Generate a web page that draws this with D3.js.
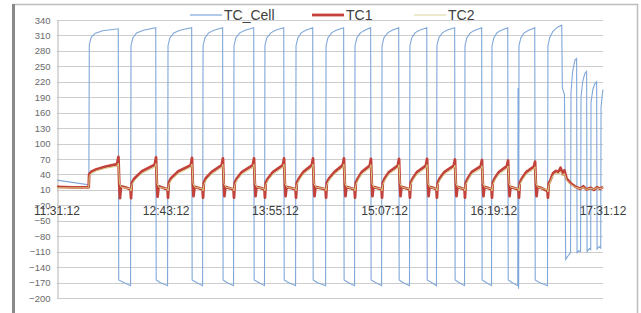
<!DOCTYPE html>
<html lang="en">
<head>
  <meta charset="UTF-8">
  <title>TC_Cell / TC1 / TC2</title>
  <style>
    body {
      margin: 0;
      padding: 0;
      background: #fff;
    }
    svg {
      display: block;
      font-family: "Liberation Sans", Arial, sans-serif;
    }
    .grid line {
      stroke: #cdcdcd;
      stroke-width: 1px;
    }
    .ylab {
      font-size: 9.5px;
      fill: #6a6a6a;
    }
    .xlab {
      font-size: 12px;
      fill: #3c3c3c;
    }
    .legend text {
      font-size: 14px;
      fill: #404040;
    }
  </style>
</head>
<body>
  <svg width="641" height="313"></svg>

  <script src="https://d3js.org/d3.v7.min.js"></script>
  <script>
    // minutes after 11:31:12, value
    const xTickLabels = ["11:31:12", "12:43:12", "13:55:12", "15:07:12", "16:19:12", "17:31:12"];
    const xTickMinutes = [0, 72, 144, 216, 288, 360];
    const yTicks = [-200, -170, -140, -110, -80, -50, -20, 10, 40, 70, 100, 130, 160, 190, 220, 250, 280, 310, 340];
    const seriesNames = ["TC_Cell", "TC1", "TC2"];

    const tcCell = [
      [0, 29], [21.0, 20], [21.3, 292], [22.5, 306], [25, 314], [30, 319], [40.4, 323], [40.7, -165], [44, -170], [48.5, -176],
      [48.8, 290], [50, 305], [52.5, 315], [57, 320], [65.1, 325], [65.4, -165], [68, -170], [72.9, -176],
      [73.2, 290], [74.4, 305], [77, 315], [81, 320], [88.8, 325], [89.1, -165], [92, -170], [96, -176],
      [96.3, 290], [97.5, 305], [100, 315], [103.5, 320], [109.2, 325], [109.5, -165], [112, -170], [116.4, -176],
      [116.7, 290], [117.9, 305], [120.5, 315], [124, 320], [129.7, 325], [130, -165], [133, -170], [136.8, -176],
      [137.1, 290], [138.3, 305], [141, 315], [144, 320], [149.5, 325], [149.8, -165], [152.5, -170], [157.3, -176],
      [157.6, 290], [158.8, 305], [161, 315], [164, 320], [168.6, 325], [168.9, -165], [171.5, -170], [177.1, -176],
      [177.4, 290], [178.6, 305], [181, 315], [184, 320], [189, 325], [189.3, -165], [192, -170], [196.2, -176],
      [196.5, 290], [197.7, 305], [200, 315], [203, 320], [206.8, 325], [207.1, -165], [210, -170], [214, -176],
      [214.3, 290], [215.5, 305], [218, 315], [221, 320], [225.3, 325], [225.6, -165], [228, -170], [232.4, -176],
      [232.7, 290], [233.9, 305], [236, 315], [239, 320], [243.8, 325], [244.1, -165], [247, -170], [250.2, -176],
      [250.5, 290], [251.7, 305], [254, 315], [257, 320], [262.2, 325], [262.5, -165], [265, -170], [268.7, -176],
      [269, 290], [270.2, 305], [272.5, 315], [275.5, 320], [280, 325], [280.3, -165], [283, -170], [286.5, -176],
      [286.8, 290], [288, 305], [290, 315], [293, 320], [297.2, 325], [297.5, -165], [300, -170], [303.8, -176],
      [304.0, 208], [304.3, -182], [304.4, -176],
      [304.6, 290], [305.8, 305], [308, 315], [311, 320], [315, 325], [315.3, -165], [318, -170], [323.4, -176],
      [323.7, 290], [324.9, 306], [327, 318], [330, 326], [332.8, 330], [333.2, 208], [334.6, 195], [335.4, -125], [337, -118], [338.6, -112],
      [338.9, 200], [340, 240], [341.5, 262], [342.6, 265], [342.9, -112], [344, -108], [345.2, -110],
      [345.5, 190], [346.7, 222], [348, 236], [349.2, 240], [349.5, -110], [351, -104], [351.9, -106],
      [352.1, 180], [353.3, 205], [354.6, 216], [355.8, 220], [356.1, -105], [357.5, -100], [358.5, -103],
      [358.7, 170], [359.5, 195], [360, 205]
    ];

    const tc1 = [
      [0, 16], [10, 15], [20.9, 15],
      [21.2, 40], [22.5, 45], [26, 50], [32, 55], [39.6, 60], [40.5, 74], [41, 25], [41.5, -6], [42.2, 17], [45, 15], [48.5, 11],
      [48.8, -6], [49.3, 24], [51, 32], [56, 46], [64.4, 59], [65.3, 73], [65.8, 24], [66.3, -3], [67, 17], [70, 14], [72.9, 11],
      [73.2, -5], [73.7, 24], [75, 32], [80, 46], [88.2, 58], [89, 72], [89.5, 24], [90, -2], [90.7, 16], [93, 14], [96, 11],
      [96.3, -5], [96.8, 24], [98, 32], [102, 45], [108.6, 58], [109.4, 71], [109.9, 24], [110.4, -2], [111, 16], [113, 14], [116.4, 11],
      [116.7, -5], [117.2, 24], [118.5, 32], [122, 45], [129.1, 58], [129.9, 71], [130.4, 24], [130.9, -2], [131.5, 16], [134, 14], [136.8, 11],
      [137.1, -5], [137.6, 24], [139, 32], [142.5, 45], [148.9, 58], [149.7, 71], [150.2, 24], [150.7, -2], [151.3, 16], [154, 14], [157.3, 11],
      [157.6, -5], [158.1, 24], [159.5, 32], [162.5, 45], [168, 58], [168.8, 71], [169.3, 24], [169.8, -2], [170.4, 16], [173, 14], [177.1, 11],
      [177.4, -5], [177.9, 24], [179.3, 32], [183, 45], [188.4, 58], [189.2, 71], [189.7, 24], [190.2, -2], [190.8, 16], [193, 14], [196.2, 11],
      [196.5, -5], [197, 24], [198.3, 32], [201, 45], [206.2, 57], [207, 70], [207.5, 24], [208, -2], [208.6, 16], [211, 14], [214, 11],
      [214.3, -5], [214.8, 24], [216, 32], [219, 45], [224.7, 57], [225.5, 70], [226, 24], [226.5, -2], [227.1, 16], [229.5, 14], [232.4, 11],
      [232.7, -5], [233.2, 24], [234.5, 32], [237.5, 45], [243.2, 57], [244, 70], [244.5, 24], [245, -2], [245.6, 16], [248, 14], [250.2, 11],
      [250.5, -5], [251, 24], [252.3, 32], [255.5, 45], [261.6, 57], [262.4, 69], [262.9, 24], [263.4, -2], [264, 16], [266, 14], [268.7, 11],
      [269, -5], [269.5, 24], [270.8, 32], [273.5, 45], [279.4, 56], [280.2, 68], [280.7, 24], [281.2, -2], [281.8, 16], [284, 14], [286.5, 11],
      [286.8, -5], [287.3, 24], [288.5, 32], [291.5, 45], [296.6, 56], [297.4, 67], [297.9, 24], [298.4, -2], [299, 16], [301, 14], [304.3, 11],
      [304.6, -5], [305.1, 24], [306.5, 32], [309.5, 45], [314.4, 55], [315.2, 65], [315.7, 24], [316.2, -2], [316.8, 16], [319, 14], [323.4, 8],
      [323.7, -5], [324.2, 22], [325.5, 30], [327, 42], [329, 47], [330.5, 44], [332, 53], [333.5, 40], [334.5, 48], [336, 32],
      [339, 22], [342, 16], [345, 12], [347, 17], [349, 11], [352, 14], [354, 10], [356, 15], [358, 12], [360, 16]
    ];

    const tc2 = [
      [0, 14], [10, 14], [20.9, 14],
      [21.3, 36], [22.5, 42], [26, 47], [32, 52], [39.6, 56], [40.5, 62], [41.2, 22], [42.5, 15], [45, 14], [48.5, 12],
      [48.8, 8], [49.4, 20], [51, 28], [56, 42], [64.4, 54], [65.3, 61], [66, 22], [67.3, 15], [72.9, 12],
      [73.2, 8], [73.8, 20], [75, 28], [80, 42], [88.2, 54], [89, 60], [89.7, 22], [91, 15], [96, 12],
      [96.3, 8], [96.9, 20], [98, 28], [102, 41], [108.6, 53], [109.4, 60], [110.1, 22], [111.4, 15], [116.4, 12],
      [116.7, 8], [117.3, 20], [118.5, 28], [122, 41], [129.1, 53], [129.9, 60], [130.6, 22], [131.9, 15], [136.8, 12],
      [137.1, 8], [137.7, 20], [139, 28], [142.5, 41], [148.9, 53], [149.7, 60], [150.4, 22], [151.7, 15], [157.3, 12],
      [157.6, 8], [158.2, 20], [159.5, 28], [162.5, 41], [168, 53], [168.8, 60], [169.5, 22], [170.8, 15], [177.1, 12],
      [177.4, 8], [178, 20], [179.3, 28], [183, 41], [188.4, 53], [189.2, 60], [189.9, 22], [191.2, 15], [196.2, 12],
      [196.5, 8], [197.1, 20], [198.3, 28], [201, 41], [206.2, 52], [207, 59], [207.7, 22], [209, 15], [214, 12],
      [214.3, 8], [214.9, 20], [216, 28], [219, 41], [224.7, 52], [225.5, 59], [226.2, 22], [227.5, 15], [232.4, 12],
      [232.7, 8], [233.3, 20], [234.5, 28], [237.5, 41], [243.2, 52], [244, 59], [244.7, 22], [246, 15], [250.2, 12],
      [250.5, 8], [251.1, 20], [252.3, 28], [255.5, 41], [261.6, 52], [262.4, 58], [263.1, 22], [264.4, 15], [268.7, 12],
      [269, 8], [269.6, 20], [270.8, 28], [273.5, 41], [279.4, 51], [280.2, 57], [280.9, 22], [282.2, 15], [286.5, 12],
      [286.8, 8], [287.4, 20], [288.5, 28], [291.5, 41], [296.6, 51], [297.4, 56], [298.1, 22], [299.4, 15], [304.3, 12],
      [304.6, 8], [305.2, 20], [306.5, 28], [309.5, 41], [314.4, 50], [315.2, 55], [315.9, 22], [317.2, 15], [323.4, 10],
      [323.7, 6], [324.3, 19], [325.5, 27], [327, 38], [329, 43], [330.5, 41], [332, 46], [333.5, 37], [334.5, 42], [336, 29],
      [339, 20], [342, 15], [345, 12], [347, 15], [349, 11], [352, 13], [354, 11], [356, 14], [358, 12], [360, 15]
    ];

    const colors = { "TC_Cell": "#7fa7da", "TC1": "#c2423b", "TC2": "#d6cb80" };

    const svg = d3.select("svg");

    const x = d3.scaleLinear().domain([0, 360]).range([57, 603]);
    const y = d3.scaleLinear().domain([-200, 340]).range([298, 20]);

    // outer frame
    svg.append("rect")
      .attr("x", 13.5).attr("y", 4.5)
      .attr("width", 624).attr("height", 330)
      .attr("fill", "#fff")
      .attr("stroke", "#bdbdbd")
      .attr("stroke-width", 1.5);
    svg.append("line")
      .attr("x1", 13.5).attr("x2", 13.5)
      .attr("y1", 4).attr("y2", 313)
      .attr("stroke", "#8a8a8a")
      .attr("stroke-width", 3);

    // horizontal gridlines
    svg.append("g")
      .attr("class", "grid")
      .selectAll("line")
      .data(yTicks)
      .join("line")
      .attr("x1", x(0)).attr("x2", x(360))
      .attr("y1", d => Math.round(y(d)) + 0.5)
      .attr("y2", d => Math.round(y(d)) + 0.5);

    // y axis
    const yAxis = d3.axisLeft(y).tickValues(yTicks).tickSize(0).tickPadding(7);
    const yg = svg.append("g")
      .attr("transform", `translate(${x(0) + 0.5},0)`)
      .call(yAxis);
    yg.select(".domain").attr("stroke", "#b5b5b5");
    yg.selectAll(".tick text")
      .attr("class", "ylab")
      .attr("font-family", null)
      .attr("font-size", null);

    const line = d3.line()
      .x(d => x(d[0]))
      .y(d => y(d[1]));

    svg.append("path")
      .datum(tcCell)
      .attr("fill", "none")
      .attr("stroke", colors["TC_Cell"])
      .attr("stroke-width", 1.1)
      .attr("d", line);

    svg.append("path")
      .datum(tc1)
      .attr("fill", "none")
      .attr("stroke", colors["TC1"])
      .attr("stroke-width", 2.8)
      .attr("stroke-linejoin", "round")
      .attr("d", line);

    svg.append("path")
      .datum(tc2)
      .attr("fill", "none")
      .attr("stroke", colors["TC2"])
      .attr("stroke-width", 1)
      .attr("d", line);

    // x labels, sitting just under the -20 line
    svg.append("g")
      .selectAll("text")
      .data(xTickMinutes)
      .join("text")
      .attr("class", "xlab")
      .attr("x", d => x(d))
      .attr("y", y(-20) + 10)
      .attr("text-anchor", "middle")
      .text((d, i) => xTickLabels[i]);

    // legend
    const legendX = [190, 312, 414];
    const lg = svg.append("g").attr("class", "legend");
    seriesNames.forEach((name, i) => {
      lg.append("line")
        .attr("x1", legendX[i]).attr("x2", legendX[i] + 32)
        .attr("y1", 15).attr("y2", 15)
        .attr("stroke", name === "TC2" ? "#e2dbac" : colors[name])
        .attr("stroke-width", name === "TC1" ? 2.8 : 1.2);
      lg.append("text")
        .attr("x", legendX[i] + 34)
        .attr("y", 20)
        .text(name);
    });
  </script>
</body>
</html>
